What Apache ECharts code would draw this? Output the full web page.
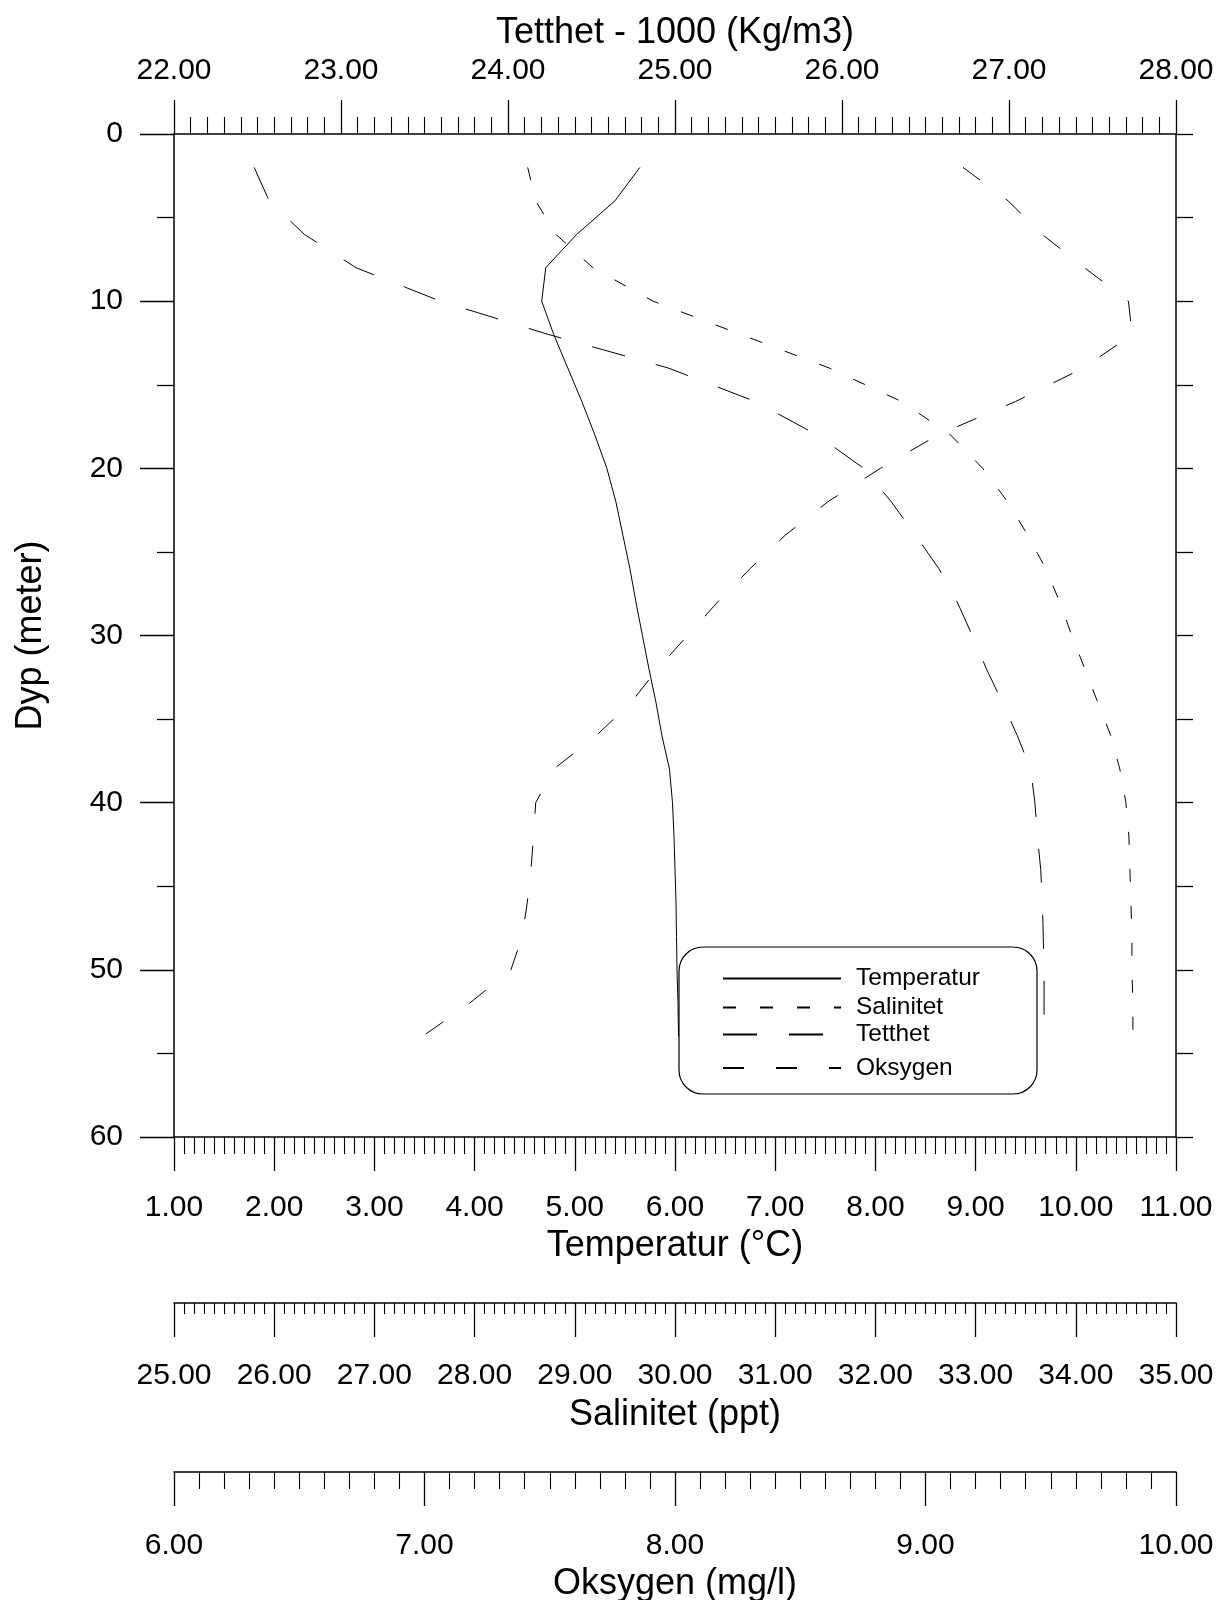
<!DOCTYPE html>
<html>
<head>
<meta charset="utf-8">
<script src="https://cdn.jsdelivr.net/npm/echarts@6/dist/echarts.min.js"></script>
<style>
  html, body { margin: 0; padding: 0; background: #fff; width: 1218px; height: 1600px; overflow: hidden; }
  #chart { width: 1218px; height: 1600px; overflow: hidden; }
</style>
</head>
<body>
<div id="chart"></div>
<script>
// ---- data (depth in metres) ----
const depth = [2, 4, 6, 8, 10, 12, 14, 16, 18, 20, 22, 24, 26, 28, 30, 32, 34, 36, 38, 40, 42, 44, 46, 48, 50, 52, 54];
const temperatur = [5.65, 5.40, 5.02, 4.71, 4.67, 4.79, 4.93, 5.07, 5.20, 5.32, 5.41, 5.48, 5.55, 5.61, 5.675, 5.74, 5.81, 5.87, 5.945, 5.975, 5.99, 6.00, 6.01, 6.015, 6.02, 6.03, 6.035];
const salinitet = [28.53, 28.61, 28.81, 29.18, 29.78, 30.66, 31.54, 32.26, 32.75, 33.07, 33.32, 33.52, 33.70, 33.84, 33.96, 34.09, 34.22, 34.35, 34.44, 34.50, 34.53, 34.54, 34.55, 34.56, 34.56, 34.57, 34.57];
const tetthet = [22.48, 22.57, 22.78, 23.09, 23.595, 24.245, 24.96, 25.48, 25.85, 26.13, 26.295, 26.44, 26.58, 26.69, 26.78, 26.865, 26.96, 27.05, 27.13, 27.155, 27.17, 27.19, 27.20, 27.205, 27.21, 27.21, 27.21];
const oksygen = [9.15, 9.33, 9.465, 9.635, 9.81, 9.825, 9.63, 9.36, 9.05, 8.82, 8.61, 8.44, 8.30, 8.17, 8.05, 7.93, 7.825, 7.685, 7.515, 7.444, 7.435, 7.425, 7.41, 7.39, 7.345, 7.18, 6.99];

// axis ranges
const tempRange = [1, 11];
const salRange = [25, 35];
const densRange = [22, 28];
const oxyRange = [6, 10];
const depthRange = [0, 60];

const seriesNames = ['Temperatur', 'Salinitet', 'Tetthet', 'Oksygen'];

const FONT = 'Liberation Sans, Arial, Helvetica, sans-serif';
const BLACK = '#000';

function pairs(xs) { return xs.map((v, i) => [v, depth[i]]); }

function xAxisCfg(opts) {
  return Object.assign({
    type: 'value',
    nameLocation: 'middle',
    nameTextStyle: { fontSize: 36, color: BLACK, fontFamily: FONT },
    interval: 1,
    axisLine: { show: true, onZero: false, lineStyle: { color: BLACK, width: 1.5 } },
    axisTick: { show: true, length: 34, lineStyle: { color: BLACK, width: 1.3 } },
    minorTick: { show: true, splitNumber: 10, length: 17, lineStyle: { color: BLACK, width: 1.1 } },
    splitLine: { show: false },
    minorSplitLine: { show: false },
    axisLabel: { fontSize: 30, color: BLACK, fontFamily: FONT, margin: 59, formatter: v => v.toFixed(2) }
  }, opts);
}

const chart = echarts.init(document.getElementById('chart'), null, { renderer: 'canvas', width: 1218, height: 1600 });

const legendTops = [966, 995, 1022, 1055.5];

const option = {
  animation: false,
  backgroundColor: '#fff',
  grid: { left: 174, top: 134, width: 1002, height: 1003, containLabel: false, outerBoundsMode: 'none' },
  xAxis: [
    xAxisCfg({ name: 'Temperatur (°C)', position: 'bottom', offset: 0, nameGap: 89, min: tempRange[0], max: tempRange[1],
      axisLabel: { fontSize: 30, color: BLACK, fontFamily: FONT, margin: 56, formatter: v => v.toFixed(2) } }),
    xAxisCfg({ name: 'Salinitet (ppt)', position: 'bottom', offset: 166, nameGap: 94, min: salRange[0], max: salRange[1],
      axisLabel: { fontSize: 30, color: BLACK, fontFamily: FONT, margin: 58, formatter: v => v.toFixed(2) },
      minorTick: { show: true, splitNumber: 10, length: 11, lineStyle: { color: BLACK, width: 1.1 } } }),
    xAxisCfg({ name: 'Oksygen (mg/l)', position: 'bottom', offset: 335, nameGap: 89, min: oxyRange[0], max: oxyRange[1] }),
    xAxisCfg({ name: 'Tetthet - 1000 (Kg/m3)', position: 'top', offset: 0, nameGap: 83, min: densRange[0], max: densRange[1],
      axisLabel: { fontSize: 30, color: BLACK, fontFamily: FONT, margin: 48, formatter: v => v.toFixed(2) } })
  ],
  yAxis: [
    {
      type: 'value', position: 'left', inverse: true, min: depthRange[0], max: depthRange[1], interval: 10,
      name: 'Dyp (meter)', nameLocation: 'middle', nameRotate: 90, nameGap: 125,
      nameTextStyle: { fontSize: 36, color: BLACK, fontFamily: FONT },
      axisLine: { show: true, onZero: false, lineStyle: { color: BLACK, width: 1.5 } },
      axisTick: { show: true, length: 34, lineStyle: { color: BLACK, width: 1.3 } },
      minorTick: { show: true, splitNumber: 2, length: 17, lineStyle: { color: BLACK, width: 1.3 } },
      splitLine: { show: false },
      axisLabel: { fontSize: 30, color: BLACK, fontFamily: FONT, margin: 51, padding: [4, 0, 0, 0] }
    },
    {
      type: 'value', position: 'right', inverse: true, min: depthRange[0], max: depthRange[1], interval: 5,
      axisLine: { show: true, onZero: false, lineStyle: { color: BLACK, width: 1.5 } },
      axisTick: { show: true, length: 17, lineStyle: { color: BLACK, width: 1.3 } },
      splitLine: { show: false },
      axisLabel: { show: false }
    }
  ],
  legend: seriesNames.map((n, i) => ({
    data: [n],
    left: 722,
    top: legendTops[i],
    orient: 'vertical',
    padding: 0,
    itemWidth: 118,
    itemHeight: 26,
    selectedMode: false,
    itemStyle: { color: 'rgba(0,0,0,0)', borderColor: 'rgba(0,0,0,0)', borderWidth: 0 },
    textStyle: { fontSize: 24.5, color: BLACK, fontFamily: FONT, padding: [0, 0, 0, 10] }
  })),
  graphic: [{
    type: 'rect',
    shape: { x: 679, y: 947, width: 358, height: 147, r: 24 },
    style: { fill: 'none', stroke: BLACK, lineWidth: 1.2 },
    z: 10
  }],
  series: [
    { name: 'Temperatur', type: 'line', xAxisIndex: 0, yAxisIndex: 0, data: pairs(temperatur),
      symbol: 'none', lineStyle: { color: BLACK, width: 1, type: 'solid' }, itemStyle: { color: BLACK } },
    { name: 'Salinitet', type: 'line', xAxisIndex: 1, yAxisIndex: 0, data: pairs(salinitet),
      symbol: 'none', lineStyle: { color: BLACK, width: 1, type: [13, 24] }, itemStyle: { color: BLACK } },
    { name: 'Tetthet', type: 'line', xAxisIndex: 3, yAxisIndex: 0, data: pairs(tetthet),
      symbol: 'none', lineStyle: { color: BLACK, width: 1, type: [34, 32] }, itemStyle: { color: BLACK } },
    { name: 'Oksygen', type: 'line', xAxisIndex: 2, yAxisIndex: 0, data: pairs(oksygen),
      symbol: 'none', lineStyle: { color: BLACK, width: 1, type: [21, 32] }, itemStyle: { color: BLACK } }
  ]
};

chart.setOption(option);
</script>
</body>
</html>
